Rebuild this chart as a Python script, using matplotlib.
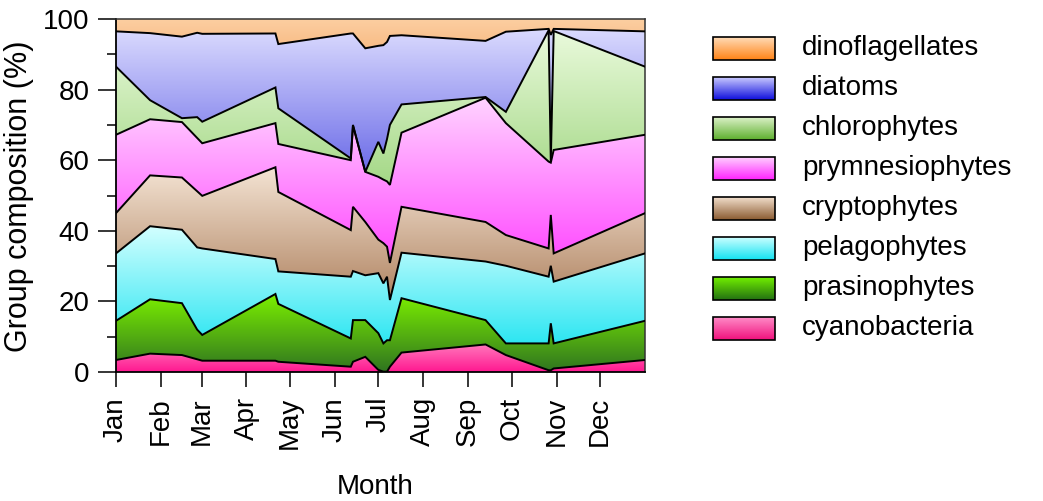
import numpy as np
import matplotlib
matplotlib.use("Agg")
import matplotlib.pyplot as plt
from matplotlib.colors import LinearSegmentedColormap
from matplotlib.patches import Rectangle

plt.rcParams['font.family'] = ['Liberation Sans', 'DejaVu Sans']

# Sampling dates (day of year) and group composition (%) at each date
days = [0, 23.5, 45.5, 56, 59.5, 110, 112, 162, 163.5, 172, 181, 184.5, 187,
        189, 197, 255, 269, 298.5, 300, 302, 365]

cyanobacteria = [3.4, 5.2, 4.8, 3.6, 3.2, 3.2, 2.9, 1.5, 2.9, 4.3, 0.6, 0.1, 0.1,
                 1.5, 5.5, 7.8, 4.8, 0.5, 0.5, 1.0, 3.4]
prasinophytes = [11.1, 15.4, 14.7, 8.4, 7.3, 18.9, 16.4, 8.0, 11.8, 10.4, 10.4, 8.0, 8.9,
                 7.5, 15.4, 6.9, 3.3, 7.6, 13.3, 7.1, 11.1]
pelagophytes = [19.1, 20.7, 20.8, 23.3, 24.5, 9.9, 9.2, 17.5, 13.9, 12.7, 17.0, 17.0, 18.0,
                11.4, 12.9, 16.6, 22.0, 18.9, 16.3, 17.5, 19.1]
cryptophytes = [11.4, 14.4, 14.8, 15.9, 14.9, 26.0, 22.5, 13.2, 18.2, 15.1, 9.5, 11.4, 8.5,
                10.5, 13.0, 11.2, 8.7, 8.0, 14.4, 8.0, 11.4]
prymnesiophytes = [22.2, 15.9, 15.7, 15.1, 14.9, 12.5, 13.6, 19.8, 23.0, 14.2, 17.8, 18.0, 18.5,
                   22.1, 21.0, 35.2, 31.7, 24.6, 14.8, 29.3, 22.2]
chlorophytes = [19.3, 5.4, 1.1, 5.9, 6.1, 10.1, 10.1, 0.5, 0.2, 0.0, 9.9, 7.4, 12.0,
                17.0, 8.0, 0.2, 3.2, 37.2, 0.2, 33.7, 19.3]
diatoms = [10.0, 19.0, 23.1, 23.9, 24.9, 15.3, 18.2, 35.4, 25.9, 35.0, 27.2, 30.7, 27.5,
           25.2, 19.6, 15.9, 22.7, 0.4, 36.0, 0.6, 10.0]
dinoflagellates = [3.5, 4.0, 5.0, 3.9, 4.2, 4.1, 7.1, 4.1, 4.1, 8.3, 7.6, 7.4, 6.5,
                   4.8, 4.6, 6.2, 3.6, 2.8, 4.5, 2.8, 3.5]

month_starts = [0, 31, 59, 90, 120, 151, 181, 212, 243, 273, 304, 334]
month_labels = ['Jan', 'Feb', 'Mar', 'Apr', 'May', 'Jun', 'Jul', 'Aug', 'Sep',
                'Oct', 'Nov', 'Dec']

# (name, values, band gradient bottom/top, legend gradient bottom/top), stacked bottom-up
groups = [
    ('cyanobacteria', cyanobacteria, ('#ff1890', '#ff78bc'), ('#f0107c', '#ff8cc8')),
    ('prasinophytes', prasinophytes, ('#2f7420', '#7cf000'), ('#227012', '#72f000')),
    ('pelagophytes', pelagophytes, ('#2ee6f2', '#d4ffff'), ('#10e2f2', '#ccffff')),
    ('cryptophytes', cryptophytes, ('#b08462', '#f4e4d4'), ('#8a5a30', '#f2dfcc')),
    ('prymnesiophytes', prymnesiophytes, ('#ff48ff', '#ffd4ff'), ('#ff20ff', '#ffd0ff')),
    ('chlorophytes', chlorophytes, ('#a4d886', '#eafadc'), ('#5cae2c', '#dcf2c8')),
    ('diatoms', diatoms, ('#6c6ce8', '#dadafe'), ('#0c0cdc', '#cacaff')),
    ('dinoflagellates', dinoflagellates, ('#f8bc86', '#fccfa2'), ('#ff8214', '#ffdcb8')),
]

W, H = 1043, 501
fig = plt.figure(figsize=(W / 100, H / 100), dpi=100)
ax = fig.add_axes([116 / W, 129 / H, 529 / W, 353 / H])

x = np.asarray(days, dtype=float)
grad = np.linspace(0, 1, 256).reshape(-1, 1)
lower = np.zeros_like(x)
for name, vals, (c_bot, c_top), _ in groups:
    upper = lower + np.asarray(vals, dtype=float)
    poly = ax.fill_between(x, lower, upper, facecolor='none', edgecolor='none')
    cmap = LinearSegmentedColormap.from_list(name, [c_bot, c_top])
    im = ax.imshow(grad, cmap=cmap, origin='lower', aspect='auto',
                   interpolation='bilinear',
                   extent=[x.min(), x.max(), lower.min(), upper.max()], zorder=1)
    im.set_clip_path(poly.get_paths()[0], ax.transData)
    if name != 'dinoflagellates':
        ax.plot(x, upper, color='black', lw=1.4, zorder=3, solid_joinstyle='miter')
    lower = upper

ax.set_xlim(0, 365)
ax.set_ylim(0, 100)

ax.set_yticks(np.arange(0, 101, 20))
ax.set_yticks(np.arange(10, 100, 20), minor=True)
ax.set_xticks(month_starts)
ax.set_xticklabels(month_labels, rotation=90)
ax.tick_params(axis='y', which='major', length=13, width=1.1, direction='out',
               pad=6, labelsize=20)
ax.tick_params(axis='y', which='minor', length=6.5, width=1.1, direction='out')
ax.tick_params(axis='x', which='major', length=11, width=1.1, direction='out',
               pad=7, labelsize=20)
for side in ['left', 'bottom']:
    ax.spines[side].set_linewidth(1.3)
for side in ['top', 'right']:
    ax.spines[side].set_linewidth(1.1)
    ax.spines[side].set_color('#333333')

ax.set_ylabel('Group composition (%)', fontsize=22)
ax.yaxis.set_label_coords(-0.155, 0.497)
ax.set_xlabel('Month', fontsize=20)
ax.xaxis.set_label_coords(0.49, -0.288)

# Legend drawn on a transparent overlay in pixel units
lg = fig.add_axes([0, 0, 1, 1])
lg.set_xlim(0, W)
lg.set_ylim(0, H)
lg.axis('off')
for i, (name, vals, _, (l_bot, l_top)) in enumerate(groups[::-1]):
    top = 36.7 + 40 * i
    y_top = H - top
    y_bot = H - (top + 23)
    cmap = LinearSegmentedColormap.from_list('leg_' + name, [l_bot, l_top])
    lg.imshow(grad, cmap=cmap, origin='lower', aspect='auto',
              interpolation='bilinear', extent=[713, 775, y_bot, y_top])
    lg.add_patch(Rectangle((713, y_bot), 62, 23, facecolor='none',
                           edgecolor='black', lw=1.2))
    lg.text(802, H - (top + 18.3), name, fontsize=20, va='baseline', ha='left')
lg.set_xlim(0, W)
lg.set_ylim(0, H)

fig.savefig('out.png', dpi=100)
